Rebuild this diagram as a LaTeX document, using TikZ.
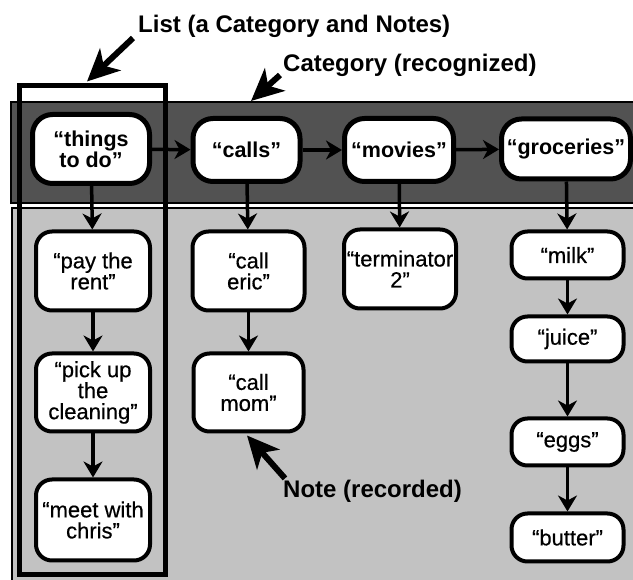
\documentclass[tikz,border=0pt]{standalone}
\usepackage{fontspec}
\setmainfont{Liberation Sans}
\newfontfamily\notefont[FakeBold=0.5]{Liberation Sans}
\usepackage{tikz}
\usetikzlibrary{arrows.meta}

\begin{document}
\begin{tikzpicture}[x=1pt,y=-1pt,
        catbox/.style={draw,line width=5pt,fill=white,rounded corners=20pt,inner sep=0pt,align=center,font=\fontsize{21.5}{19}\selectfont\bfseries},
        notebox/.style={draw,line width=4pt,fill=white,rounded corners=16pt,inner sep=0pt,align=center,font=\fontsize{22}{21}\notefont},
        flow/.style={line width=3.5pt,-{Stealth[length=16pt,width=19pt,inset=5pt]}},
        callout/.style={line width=6pt,-{Stealth[length=32pt,width=30pt,inset=9pt]}},
        calltext/.style={inner sep=0pt,anchor=base west,font=\fontsize{24}{26}\selectfont\bfseries}]
        \useasboundingbox (0,0) rectangle (633,580);

        \fill[black!24] (12,208) rectangle (633,580);
        \draw[line width=1.5pt] (12,580) -- (12,208) -- (633,208);
        \filldraw[fill=black!68,draw=black,line width=2pt] (11,102) rectangle (640,203);

        \node[catbox,minimum width=117pt,minimum height=69pt] (things) at (91,149) {“things\\to do”};
        \node[catbox,minimum width=107pt,minimum height=63pt] (calls) at (246.5,150) {“calls”};
        \node[catbox,minimum width=109pt,minimum height=63pt] (movies) at (399,150) {“movies”};
        \node[catbox,minimum width=129pt,minimum height=60pt] (groceries) at (566,149) {“groceries”};

        \node[notebox,minimum width=114pt,minimum height=79pt] (rent) at (93,271) {“pay the\\rent”};
        \node[notebox,minimum width=114pt,minimum height=78pt] (cleaning) at (93,392.5) {“pick up\\the\\cleaning”};
        \node[notebox,minimum width=114pt,minimum height=81pt] (chris) at (93,520) {“meet with\\chris”};
        \node[notebox,minimum width=112pt,minimum height=79pt] (eric) at (248.5,271) {“call\\eric”};
        \node[notebox,minimum width=110pt,minimum height=78pt] (mom) at (248.5,392.5) {“call\\mom”};
        \node[notebox,minimum width=112pt,minimum height=79pt] (term) at (400,269) {“terminator\\2”};
        \node[notebox,minimum width=112pt,minimum height=47pt] (milk) at (567.5,255) {“milk”};
        \node[notebox,minimum width=112pt,minimum height=45pt] (juice) at (567.5,339) {“juice”};
        \node[notebox,minimum width=112pt,minimum height=47pt] (eggs) at (567.5,442) {“eggs”};
        \node[notebox,minimum width=112pt,minimum height=48pt] (butter) at (567.5,537.5) {“butter”};

        \node[draw,line width=5pt,minimum width=146pt,minimum height=489pt,inner sep=0pt] (list) at (92,330.5) {};

        \draw[flow] (things) -- (calls);
        \draw[flow] (calls) -- (movies);
        \draw[flow] (movies) -- (groceries);
        \draw[flow] (things) -- (rent);
        \draw[flow] (rent) -- (cleaning);
        \draw[flow] (cleaning) -- (chris);
        \draw[flow] (calls) -- (eric);
        \draw[flow] (eric) -- (mom);
        \draw[flow] (movies) -- (term);
        \draw[flow] (groceries) -- (milk);
        \draw[flow] (milk) -- (juice);
        \draw[flow] (juice) -- (eggs);
        \draw[flow] (eggs) -- (butter);

        \node[calltext] (listlbl) at (138,33) {List (a Category and Notes)};
        \node[calltext] (catlbl) at (283,72) {Category (recognized)};
        \node[calltext] (notelbl) at (283,498) {Note (recorded)};
        \coordinate (cattip) at (251,101);

        \draw[callout] ([xshift=-5pt,yshift=-5pt]listlbl.base west) -- ([xshift=-5pt,yshift=2pt]list.north);
        \draw[callout] ([xshift=-3pt,yshift=-3pt]catlbl.base west) -- (cattip);
        \draw[callout] ([xshift=2pt,yshift=2pt]notelbl.north west) -- ([xshift=-1.5pt,yshift=-2pt]mom.south);
    \end{tikzpicture}
\end{document}
